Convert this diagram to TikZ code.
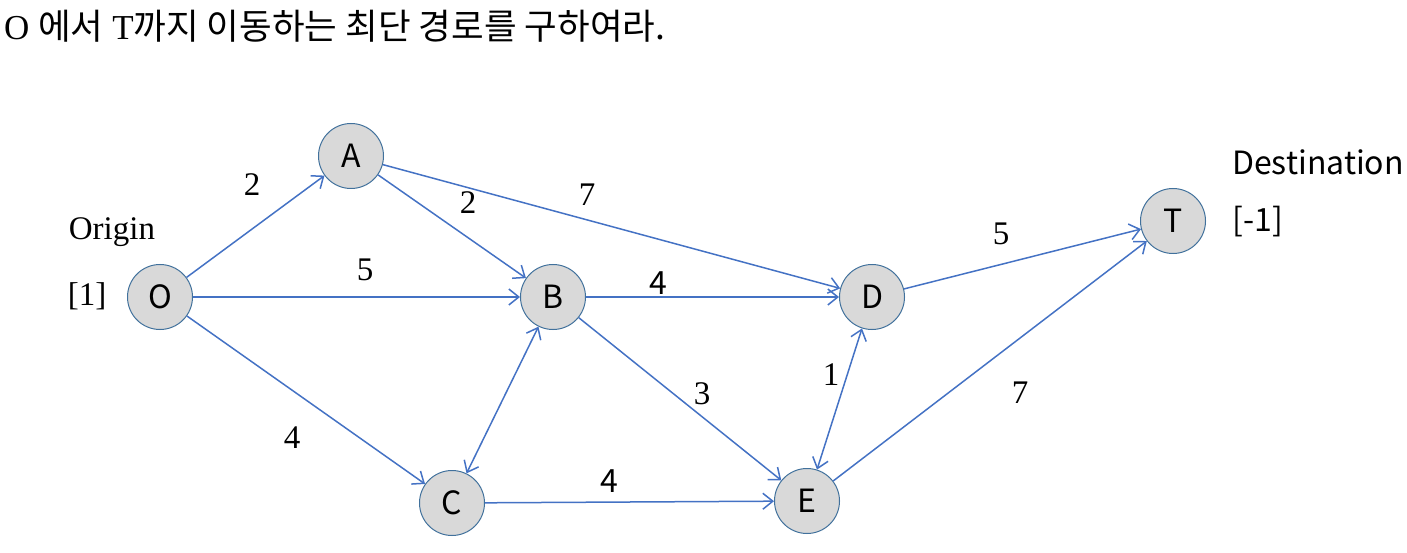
\documentclass[tikz,border=0pt]{standalone}
\usepackage{fontspec}
\setmainfont{Liberation Serif}
\newfontfamily\kor{Noto Sans CJK KR}
\usetikzlibrary{arrows.meta}
\definecolor{edgeblue}{HTML}{4472C4}
\definecolor{nodefill}{HTML}{D9D9D9}
\definecolor{nodeline}{HTML}{41719C}
\tikzset{
  vtx/.style={circle, draw=nodeline, line width=1pt, fill=nodefill, minimum size=65pt, inner sep=0pt, font=\kor\fontsize{32}{36}\selectfont},
  edge/.style={draw=edgeblue, line width=1.5pt, -{Straight Barb[length=10pt,width=16pt,line width=1.5pt]}},
  bedge/.style={draw=edgeblue, line width=1.5pt, {Straight Barb[length=10pt,width=16pt,line width=1.5pt]}-{Straight Barb[length=10pt,width=16pt,line width=1.5pt]}},
  wser/.style={font=\fontsize{33}{36}\selectfont, inner sep=0pt},
  wsan/.style={font=\kor\fontsize{32}{36}\selectfont, inner sep=0pt},
}
\begin{document}
\begin{tikzpicture}[x=1pt,y=-1pt]
\useasboundingbox (0,0) rectangle (1407,553);
\node[anchor=base west, inner sep=0pt, font=\fontsize{35}{40}\selectfont] (title) at (4,40) {O {\kor\fontsize{35.5}{40}\selectfont 에서} T{\kor\fontsize{35.5}{40}\selectfont 까지 이동하는 최단 경로를 구하여라.}};
\node[vtx] (O) at (160,297) {O};
\node[vtx] (A) at (351,156) {A};
\node[vtx] (B) at (553,297) {B};
\node[vtx] (C) at (452,503) {C};
\node[vtx] (D) at (872,297) {D};
\node[vtx] (E) at (807,501) {E};
\node[vtx] (T) at (1173,221) {T};
\node[wser] (origin) at (112,232) {Origin};
\node[wser] (one) at (87,296) {[1]};
\node[wsan] (dest) at (1318,162) {Destination};
\node[wsan] (mone) at (1258,222) {[-1]};
\draw[edge] (O) -- (A);
\draw[edge] (O) -- (B);
\draw[edge] (O) -- (C);
\draw[edge] (A) -- (B);
\draw[edge] (A) -- (D);
\draw[edge] (B) -- (D);
\draw[edge] (B) -- (E);
\draw[bedge] (C) -- (B);
\draw[edge] (C) -- (E);
\draw[bedge] (E) -- (D);
\draw[edge] (D) -- (T);
\draw[edge] (E) -- (T);
\node[wser] (wOA) at (252,185) {2};
\node[wser] (wAB) at (468,203) {2};
\node[wser] (wAD) at (587,195) {7};
\node[wser] (wOB) at (365,270) {5};
\node[wsan] (wBD) at (658,283) {4};
\node[wser] (wDT) at (1001,234) {5};
\node[wser] (wED) at (831,375) {1};
\node[wser] (wBE) at (702,394) {3};
\node[wser] (wET) at (1020,393) {7};
\node[wser] (wOC) at (292,438) {4};
\node[wsan] (wCE) at (609,481) {4};
\end{tikzpicture}
\end{document}
